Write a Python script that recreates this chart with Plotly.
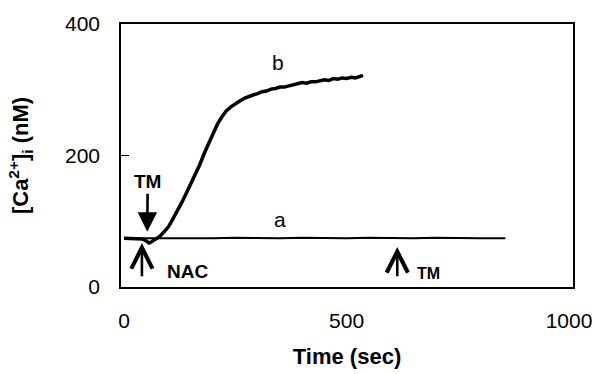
import plotly.graph_objects as go

# Trace b (TM added at ~55 s)
time_b = [0, 10, 20, 30, 40, 50, 56, 60, 70, 80, 90, 100, 110, 120, 130, 140, 150, 160,
          170, 180, 190, 200, 210, 220, 230, 240, 250, 260, 270, 280, 290, 300, 310, 320,
          330, 340, 350, 360, 370, 380, 390, 400, 410, 420, 430, 440, 450, 460, 470, 480,
          490, 500, 510, 520, 530, 537]
ca_b = [74, 74, 73, 74, 73, 70, 67, 68, 72, 77, 84, 92, 104, 116, 129, 143, 157, 171,
        186, 203, 219, 235, 248, 259, 268, 274, 279, 283, 287, 290, 292, 294, 297, 298,
        301, 302, 304, 304, 306, 308, 309, 311, 310, 312, 312, 314, 315, 314, 317, 316,
        318, 317, 319, 318, 320, 322]

# Trace a (NAC pretreatment)
time_a = [0, 50, 100, 150, 200, 250, 300, 350, 400, 450, 500, 550, 600, 650, 700, 750, 800, 857]
ca_a = [74, 74, 73, 74, 74, 75, 74, 74, 75, 74, 74, 75, 74, 74, 75, 74, 74, 74]

x_ticks = [0, 500, 1000]
y_ticks = [0, 200, 400]

FONT = "Liberation Sans, Arial, sans-serif"

fig = go.Figure()
fig.add_trace(go.Scatter(x=time_a, y=ca_a, mode="lines",
                         line=dict(color="black", width=2), showlegend=False))
fig.add_trace(go.Scatter(x=time_b, y=ca_b, mode="lines",
                         line=dict(color="black", width=3.5), showlegend=False))

fig.update_layout(
    width=595, height=374,
    margin=dict(l=121, r=22, t=24, b=87, autoexpand=False),
    paper_bgcolor="white", plot_bgcolor="white",
    font=dict(family=FONT, color="black", size=21),
    showlegend=False,
)
fig.update_xaxes(range=[-7, 1009], tickvals=x_ticks, ticks="", showgrid=False,
                 zeroline=False, showline=True, linecolor="black", linewidth=1.5,
                 mirror=True, ticklabelstandoff=14, ticklabeloverflow="allow",
                 automargin=False,
                 title=dict(text="<b>Time (sec)</b>", standoff=18,
                            font=dict(size=22, family=FONT)))
fig.update_yaxes(range=[0, 400], tickvals=y_ticks, ticks="inside", ticklen=8,
                 tickcolor="black", showgrid=False, zeroline=False, showline=True,
                 linecolor="black", linewidth=1.5, mirror=True, ticklabelstandoff=15,
                 ticklabeloverflow="allow", automargin=False,
                 title=dict(text="<b>[Ca<sup>2+</sup>]<sub>i</sub> (nM)</b>", standoff=30,
                            font=dict(size=22, family=FONT)))

# Curve labels
fig.add_annotation(x=346, y=342, text="b", showarrow=False, font=dict(size=21))
fig.add_annotation(x=351, y=103, text="a", showarrow=False, font=dict(size=21))

# TM label with down arrow (filled head)
fig.add_annotation(x=52, y=84, ax=53, ay=160, xref="x", yref="y", axref="x", ayref="y",
                   text="<b>TM</b>", font=dict(size=19), showarrow=True, arrowhead=2,
                   arrowsize=1.5, arrowwidth=2.6, arrowcolor="black", standoff=0)

# NAC up arrow
fig.add_annotation(x=40, y=67, ax=40, ay=14, xref="x", yref="y", axref="x", ayref="y",
                   text="", showarrow=True, arrowhead=5, arrowsize=1.6, arrowwidth=2.6,
                   arrowcolor="black")
fig.add_annotation(x=142, y=23, text="<b>NAC</b>", showarrow=False, font=dict(size=19))

# TM up arrow at ~614 s
fig.add_annotation(x=614, y=61, ax=614, ay=14, xref="x", yref="y", axref="x", ayref="y",
                   text="", showarrow=True, arrowhead=5, arrowsize=1.6, arrowwidth=2.6,
                   arrowcolor="black")
fig.add_annotation(x=684, y=20, text="<b>TM</b>", showarrow=False, font=dict(size=16))

fig.write_html("out.html", config={"displayModeBar": False},
               post_script="document.body.style.margin='0';")
